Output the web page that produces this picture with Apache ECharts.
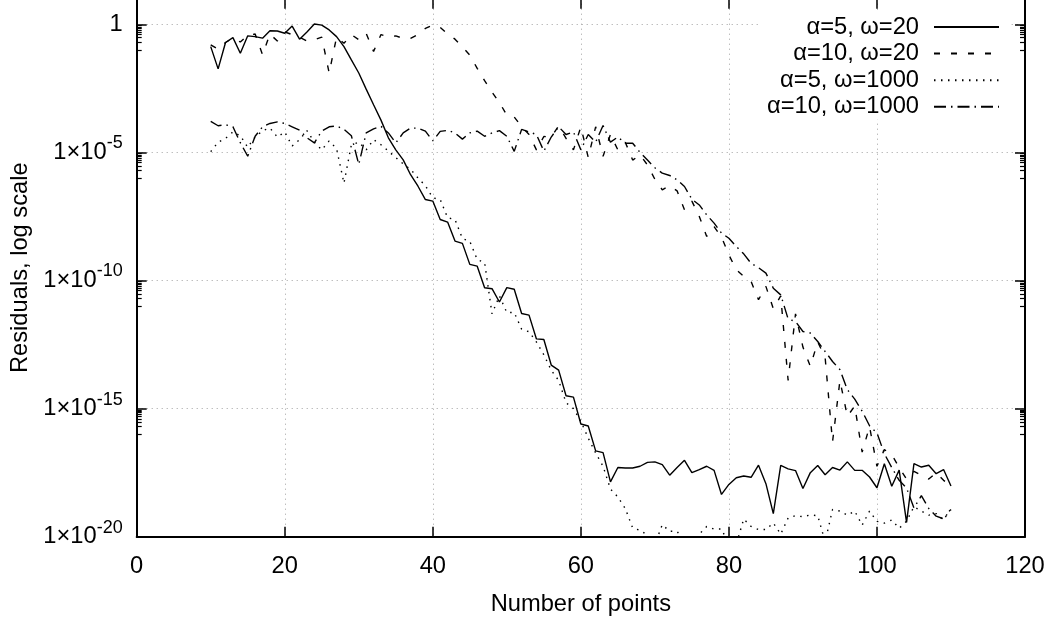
<!DOCTYPE html>
<html>
<head>
<meta charset="utf-8">
<script src="https://cdn.jsdelivr.net/npm/echarts@6/dist/echarts.min.js"></script>
<style>
html,body{margin:0;padding:0;background:#fff;}
#chart{width:1056px;height:624px;}
</style>
</head>
<body>
<div id="chart"></div>
<script>
// x: number of points
const nPoints = [10,11,12,13,14,15,16,17,18,19,20,21,22,23,24,25,26,27,28,29,30,
  31,32,33,34,35,36,37,38,39,40,41,42,43,44,45,46,47,48,49,50,
  51,52,53,54,55,56,57,58,59,60,61,62,63,64,65,66,67,68,69,70,
  71,72,73,74,75,76,77,78,79,80,81,82,83,84,85,86,87,88,89,90,
  91,92,93,94,95,96,97,98,99,100,101,102,103,104,105,106,107,108,109,110];

// residuals, given as log10(residual)
const logRes_a5_w20 = [-0.87,-1.74,-0.71,-0.52,-1.13,-0.45,-0.48,-0.54,-0.25,-0.26,-0.35,
  -0.07,-0.58,-0.30,0.01,-0.03,-0.22,-0.48,-0.87,-1.39,-1.90,
  -2.53,-3.14,-3.74,-4.43,-4.90,-5.29,-5.87,-6.32,-6.84,-6.90,
  -7.62,-7.72,-8.46,-8.55,-9.37,-9.44,-10.28,-10.32,-10.84,-10.28,
  -10.34,-11.29,-11.35,-12.28,-12.30,-13.30,-13.50,-14.50,-14.55,-15.60,
  -15.68,-16.65,-16.72,-17.86,-17.30,-17.32,-17.32,-17.25,-17.10,-17.08,
  -17.19,-17.60,-17.30,-17.02,-17.50,-17.38,-17.25,-17.41,-18.35,-17.96,
  -17.70,-17.63,-17.68,-17.21,-17.93,-19.10,-17.22,-17.35,-17.42,-18.12,
  -17.50,-17.22,-17.58,-17.30,-17.40,-17.08,-17.41,-17.41,-17.67,-18.09,
  -17.15,-18.03,-17.40,-19.44,-17.15,-17.28,-17.21,-17.54,-17.38,-18.02];

const logRes_a10_w20 = [-0.80,-0.97,-0.71,-0.54,-0.69,-0.42,-0.38,-1.19,-0.38,-0.65,-0.30,
  -0.40,-0.50,-0.65,-0.60,-0.50,-1.90,-0.50,-0.74,-0.40,-0.60,
  -0.35,-1.06,-0.40,-0.50,-0.45,-0.55,-0.55,-0.40,-0.16,-0.03,
  -0.12,-0.37,-0.58,-0.88,-1.20,-1.72,-2.20,-2.65,-3.05,-3.55,
  -3.62,-3.99,-4.30,-4.90,-4.38,-4.40,-3.97,-4.45,-4.90,-4.00,
  -5.20,-4.00,-5.15,-4.30,-4.90,-4.60,-5.30,-5.10,-5.49,-6.05,
  -6.46,-6.30,-6.50,-7.24,-6.90,-7.50,-8.28,-7.90,-8.30,-9.00,
  -9.58,-9.84,-10.04,-10.75,-10.23,-11.10,-10.60,-13.90,-11.30,-12.60,
  -13.35,-12.40,-13.00,-16.30,-13.90,-15.30,-14.90,-16.70,-15.70,-17.25,
  -16.60,-16.80,-17.30,-17.75,-17.45,-17.60,-17.75,-17.50,-17.80,-18.00];

const logRes_a5_w1000 = [-4.97,-4.60,-4.45,-4.20,-4.35,-4.80,-4.40,-4.15,-4.05,-4.40,-4.20,
  -4.75,-4.50,-4.15,-4.60,-4.90,-4.55,-4.85,-6.20,-4.70,-4.60,
  -4.90,-4.50,-4.70,-4.95,-5.20,-5.45,-5.66,-6.00,-6.30,-6.77,
  -6.84,-7.55,-7.62,-8.36,-8.47,-9.18,-9.30,-11.30,-10.60,-11.25,
  -11.25,-11.90,-12.00,-12.40,-12.90,-13.50,-13.90,-14.77,-15.00,-15.50,
  -16.15,-16.73,-17.25,-18.14,-18.45,-18.90,-19.66,-19.75,-19.94,-20.30,
  -19.53,-19.79,-19.79,-20.20,-20.30,-19.90,-19.60,-19.70,-19.70,-20.30,
  -20.30,-19.31,-19.60,-19.72,-19.72,-19.46,-19.90,-19.27,-19.18,-19.22,
  -19.15,-19.18,-20.20,-18.94,-19.00,-19.16,-19.00,-19.55,-19.00,-19.40,
  -19.47,-19.35,-19.67,-19.40,-18.83,-19.00,-19.16,-19.10,-19.35,-18.90];

const logRes_a10_w1000 = [-3.79,-3.96,-3.92,-4.00,-4.62,-5.15,-4.37,-4.00,-3.87,-3.81,-3.87,
  -4.00,-4.13,-4.43,-4.63,-4.17,-4.00,-3.97,-4.10,-4.35,-5.47,
  -4.24,-4.08,-3.98,-4.24,-4.63,-4.24,-4.05,-4.05,-4.17,-4.55,
  -4.18,-4.14,-4.24,-4.48,-4.24,-4.17,-4.37,-4.24,-4.15,-4.37,
  -4.96,-4.10,-4.20,-4.30,-4.95,-4.40,-4.00,-4.30,-4.20,-4.90,
  -4.30,-4.60,-3.95,-4.60,-4.40,-4.64,-4.64,-5.00,-5.30,-5.60,
  -5.81,-5.90,-6.07,-6.33,-6.83,-7.05,-7.44,-7.76,-8.15,-8.35,
  -8.67,-8.96,-9.33,-9.50,-9.71,-10.30,-10.56,-11.50,-11.60,-11.99,
  -12.05,-12.38,-12.77,-13.16,-13.48,-14.26,-14.63,-15.10,-15.67,-15.95,
  -16.76,-17.30,-17.80,-18.10,-18.88,-18.40,-18.90,-19.20,-19.30,-18.94];

const seriesNames = ['α=5, ω=20', 'α=10, ω=20', 'α=5, ω=1000', 'α=10, ω=1000'];
const xTickValues = [0, 20, 40, 60, 80, 100, 120];
const yMajorExponents = [0, -5, -10, -15, -20];
const yMinorMultipliers = [0.1, 0.2, 0.3, 0.4, 0.5, 0.6, 0.7, 0.8, 0.9];

const FONT = "'Liberation Sans', Arial, sans-serif";
const FS = 23.7;

function toData(logArr) {
  return nPoints.map((x, i) => [x, Math.pow(10, logArr[i])]);
}

// positions (in log10 units) of gnuplot-like minor ticks below each major tick
const minorTickExps = [];
yMajorExponents.forEach(k => {
  if (k <= -20) return;
  yMinorMultipliers.forEach(m => minorTickExps.push(k + Math.log10(m)));
});

const seriesStyles = [
  { type: 'solid' },
  { type: [6, 11] },
  { type: [1.5, 5.5] },
  { type: [12, 5, 1.5, 5] }
];
const seriesData = [logRes_a5_w20, logRes_a10_w20, logRes_a5_w1000, logRes_a10_w1000];

const chart = echarts.init(document.getElementById('chart'), null, { renderer: 'canvas' });

const frameLine = { show: true, onZero: false, lineStyle: { color: '#000', width: 2 } };
const gridLine = { show: true, lineStyle: { color: '#a0a0a0', width: 1, type: [1, 4] } };
const majorTick = { show: true, inside: true, length: 10, lineStyle: { color: '#000', width: 1.5 } };
const minorTick = { show: true, inside: true, length: 5, customValues: minorTickExps, lineStyle: { color: '#000', width: 1.2 } };

const option = {
  animation: false,
  backgroundColor: '#fff',
  grid: { left: 136.7, right: 31, top: -1.3, bottom: 87.3, containLabel: false, outerBoundsMode: 'none' },
  legend: {
    orient: 'vertical',
    right: 46,
    top: 12,
    align: 'right',
    itemWidth: 65,
    itemHeight: 14,
    itemGap: 2.6,
    padding: [3, 10, 1, 6],
    backgroundColor: '#fff',
    selectedMode: false,
    itemStyle: { color: 'rgba(0,0,0,0)', borderColor: 'rgba(0,0,0,0)', borderWidth: 0 },
    textStyle: { fontSize: FS, color: '#000', fontFamily: FONT, lineHeight: 23, padding: [0, 10, 0, 0] },
    data: seriesNames
  },
  xAxis: [
    {
      type: 'value', min: xTickValues[0], max: xTickValues[xTickValues.length - 1], interval: 20,
      position: 'bottom',
      name: 'Number of points', nameLocation: 'middle', nameGap: 56,
      nameTextStyle: { fontSize: FS, color: '#000', fontFamily: FONT },
      axisLine: frameLine,
      axisTick: majorTick,
      axisLabel: { margin: 18, fontSize: FS, color: '#000', fontFamily: FONT },
      splitLine: gridLine
    },
    {
      type: 'value', min: xTickValues[0], max: xTickValues[xTickValues.length - 1], interval: 20,
      position: 'top',
      axisLine: frameLine,
      axisTick: majorTick,
      axisLabel: { show: false },
      splitLine: { show: false }
    }
  ],
  yAxis: [
    {
      type: 'log', logBase: 10, min: 1e-20, max: 10, interval: 5,
      position: 'left',
      name: 'Residuals, log scale', nameLocation: 'middle', nameGap: 104, nameRotate: 90,
      nameTextStyle: { fontSize: FS, color: '#000', fontFamily: FONT },
      axisLine: frameLine,
      axisTick: majorTick,
      minorTick: { show: false },
      axisLabel: {
        margin: 14,
        showMaxLabel: false,
        formatter: function (v) {
          const e = Math.round(Math.log10(v));
          if (e > 0) return '';
          if (e === 0) return '{m|1}';
          return '{m|1×10}{s|' + e + '}';
        },
        rich: {
          m: { fontSize: FS, fontFamily: FONT, color: '#000', lineHeight: 24, verticalAlign: 'bottom' },
          s: { fontSize: 18, fontFamily: FONT, color: '#000', lineHeight: 12, padding: [0, 0, 12, 0], verticalAlign: 'bottom' }
        }
      },
      splitLine: gridLine
    },
    {
      type: 'value', min: -20, max: 1, position: 'left',
      axisLine: { show: false, onZero: false },
      axisTick: minorTick,
      axisLabel: { show: false },
      splitLine: { show: false }
    },
    {
      type: 'log', logBase: 10, min: 1e-20, max: 10, interval: 5,
      position: 'right',
      axisLine: frameLine,
      axisTick: majorTick,
      axisLabel: { show: false },
      splitLine: { show: false }
    },
    {
      type: 'value', min: -20, max: 1, position: 'right',
      axisLine: { show: false, onZero: false },
      axisTick: minorTick,
      axisLabel: { show: false },
      splitLine: { show: false }
    }
  ],
  series: seriesNames.map((name, i) => ({
    name: name,
    type: 'line',
    xAxisIndex: 0,
    yAxisIndex: 0,
    data: toData(seriesData[i]),
    symbol: 'none',
    showSymbol: false,
    clip: true,
    silent: true,
    itemStyle: { color: '#000' },
    lineStyle: { color: '#000', width: 1.4, type: seriesStyles[i].type }
  }))
};

chart.setOption(option);
</script>
</body>
</html>
